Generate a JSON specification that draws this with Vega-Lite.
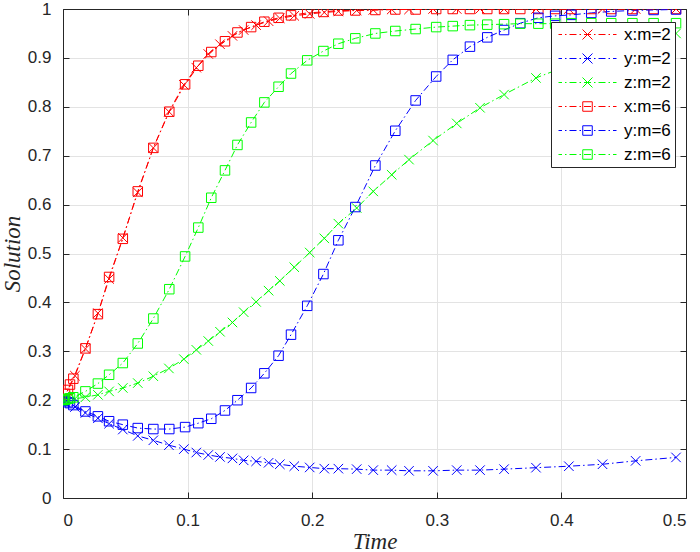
{
  "$schema": "https://vega.github.io/schema/vega-lite/v6.json",
  "width": 623,
  "height": 489,
  "autosize": {"type": "none"},
  "padding": {"left": 63, "top": 9, "right": 14, "bottom": 54},
  "background": "white",
  "config": {
    "view": {"stroke": null},
    "font": "Liberation Sans",
    "axis": {
      "labelFont": "Liberation Sans",
      "labelFontSize": 17,
      "labelColor": "#262626",
      "domainColor": "#262626",
      "domainWidth": 1,
      "tickColor": "#262626",
      "tickWidth": 1,
      "gridColor": "#e3e3e3",
      "gridWidth": 1,
      "titleFont": "Liberation Serif",
      "titleFontStyle": "italic",
      "titleFontWeight": "normal",
      "titleFontSize": 23,
      "titleColor": "#262626"
    }
  },
  "data": {
    "values": [
      {"s": "x:m=2", "t": 0, "v": 0.2},
      {"s": "x:m=2", "t": 0.0016, "v": 0.208},
      {"s": "x:m=2", "t": 0.0096, "v": 0.25},
      {"s": "x:m=2", "t": 0.018, "v": 0.305},
      {"s": "x:m=2", "t": 0.028, "v": 0.378},
      {"s": "x:m=2", "t": 0.037, "v": 0.448},
      {"s": "x:m=2", "t": 0.048, "v": 0.532},
      {"s": "x:m=2", "t": 0.06, "v": 0.625},
      {"s": "x:m=2", "t": 0.0725, "v": 0.716},
      {"s": "x:m=2", "t": 0.085, "v": 0.79},
      {"s": "x:m=2", "t": 0.097, "v": 0.845},
      {"s": "x:m=2", "t": 0.107, "v": 0.88},
      {"s": "x:m=2", "t": 0.1166, "v": 0.908},
      {"s": "x:m=2", "t": 0.126, "v": 0.928},
      {"s": "x:m=2", "t": 0.136, "v": 0.945},
      {"s": "x:m=2", "t": 0.145, "v": 0.957},
      {"s": "x:m=2", "t": 0.155, "v": 0.967},
      {"s": "x:m=2", "t": 0.165, "v": 0.975},
      {"s": "x:m=2", "t": 0.174, "v": 0.981},
      {"s": "x:m=2", "t": 0.1856, "v": 0.986},
      {"s": "x:m=2", "t": 0.198, "v": 0.99},
      {"s": "x:m=2", "t": 0.2097, "v": 0.993},
      {"s": "x:m=2", "t": 0.221, "v": 0.995},
      {"s": "x:m=2", "t": 0.2357, "v": 0.997},
      {"s": "x:m=2", "t": 0.249, "v": 0.998},
      {"s": "x:m=2", "t": 0.2638, "v": 0.999},
      {"s": "x:m=2", "t": 0.2777, "v": 0.999},
      {"s": "x:m=2", "t": 0.297, "v": 1},
      {"s": "x:m=2", "t": 0.316, "v": 1},
      {"s": "x:m=2", "t": 0.3347, "v": 1},
      {"s": "x:m=2", "t": 0.354, "v": 1},
      {"s": "x:m=2", "t": 0.3796, "v": 1},
      {"s": "x:m=2", "t": 0.406, "v": 1},
      {"s": "x:m=2", "t": 0.433, "v": 1},
      {"s": "x:m=2", "t": 0.4596, "v": 1},
      {"s": "x:m=2", "t": 0.492, "v": 1},
      {"s": "y:m=2", "t": 0, "v": 0.2},
      {"s": "y:m=2", "t": 0.0016, "v": 0.196},
      {"s": "y:m=2", "t": 0.0096, "v": 0.186},
      {"s": "y:m=2", "t": 0.018, "v": 0.174},
      {"s": "y:m=2", "t": 0.028, "v": 0.163},
      {"s": "y:m=2", "t": 0.037, "v": 0.152},
      {"s": "y:m=2", "t": 0.048, "v": 0.14},
      {"s": "y:m=2", "t": 0.06, "v": 0.127},
      {"s": "y:m=2", "t": 0.0725, "v": 0.118},
      {"s": "y:m=2", "t": 0.085, "v": 0.108},
      {"s": "y:m=2", "t": 0.097, "v": 0.1},
      {"s": "y:m=2", "t": 0.107, "v": 0.093},
      {"s": "y:m=2", "t": 0.1166, "v": 0.088},
      {"s": "y:m=2", "t": 0.126, "v": 0.084},
      {"s": "y:m=2", "t": 0.136, "v": 0.081},
      {"s": "y:m=2", "t": 0.145, "v": 0.077},
      {"s": "y:m=2", "t": 0.155, "v": 0.075},
      {"s": "y:m=2", "t": 0.165, "v": 0.072},
      {"s": "y:m=2", "t": 0.174, "v": 0.069},
      {"s": "y:m=2", "t": 0.1856, "v": 0.065},
      {"s": "y:m=2", "t": 0.198, "v": 0.0625},
      {"s": "y:m=2", "t": 0.2097, "v": 0.06},
      {"s": "y:m=2", "t": 0.221, "v": 0.06},
      {"s": "y:m=2", "t": 0.2357, "v": 0.059},
      {"s": "y:m=2", "t": 0.249, "v": 0.057},
      {"s": "y:m=2", "t": 0.2638, "v": 0.057},
      {"s": "y:m=2", "t": 0.2777, "v": 0.0556},
      {"s": "y:m=2", "t": 0.297, "v": 0.0556},
      {"s": "y:m=2", "t": 0.316, "v": 0.057},
      {"s": "y:m=2", "t": 0.3347, "v": 0.057},
      {"s": "y:m=2", "t": 0.354, "v": 0.059},
      {"s": "y:m=2", "t": 0.3796, "v": 0.062},
      {"s": "y:m=2", "t": 0.406, "v": 0.065},
      {"s": "y:m=2", "t": 0.433, "v": 0.069},
      {"s": "y:m=2", "t": 0.4596, "v": 0.076},
      {"s": "y:m=2", "t": 0.492, "v": 0.083},
      {"s": "z:m=2", "t": 0, "v": 0.2},
      {"s": "z:m=2", "t": 0.0016, "v": 0.2},
      {"s": "z:m=2", "t": 0.0096, "v": 0.203},
      {"s": "z:m=2", "t": 0.018, "v": 0.206},
      {"s": "z:m=2", "t": 0.028, "v": 0.211},
      {"s": "z:m=2", "t": 0.037, "v": 0.218},
      {"s": "z:m=2", "t": 0.048, "v": 0.225},
      {"s": "z:m=2", "t": 0.06, "v": 0.235},
      {"s": "z:m=2", "t": 0.0725, "v": 0.249},
      {"s": "z:m=2", "t": 0.085, "v": 0.265},
      {"s": "z:m=2", "t": 0.097, "v": 0.284},
      {"s": "z:m=2", "t": 0.107, "v": 0.303},
      {"s": "z:m=2", "t": 0.1166, "v": 0.321},
      {"s": "z:m=2", "t": 0.126, "v": 0.34},
      {"s": "z:m=2", "t": 0.136, "v": 0.359},
      {"s": "z:m=2", "t": 0.145, "v": 0.38},
      {"s": "z:m=2", "t": 0.155, "v": 0.401},
      {"s": "z:m=2", "t": 0.165, "v": 0.424},
      {"s": "z:m=2", "t": 0.174, "v": 0.444},
      {"s": "z:m=2", "t": 0.1856, "v": 0.472},
      {"s": "z:m=2", "t": 0.198, "v": 0.502},
      {"s": "z:m=2", "t": 0.2097, "v": 0.531},
      {"s": "z:m=2", "t": 0.221, "v": 0.561},
      {"s": "z:m=2", "t": 0.2357, "v": 0.593},
      {"s": "z:m=2", "t": 0.249, "v": 0.627},
      {"s": "z:m=2", "t": 0.2638, "v": 0.661},
      {"s": "z:m=2", "t": 0.2777, "v": 0.692},
      {"s": "z:m=2", "t": 0.297, "v": 0.731},
      {"s": "z:m=2", "t": 0.316, "v": 0.766},
      {"s": "z:m=2", "t": 0.3347, "v": 0.798},
      {"s": "z:m=2", "t": 0.354, "v": 0.825},
      {"s": "z:m=2", "t": 0.3796, "v": 0.859},
      {"s": "z:m=2", "t": 0.406, "v": 0.885},
      {"s": "z:m=2", "t": 0.433, "v": 0.907},
      {"s": "z:m=2", "t": 0.4596, "v": 0.927},
      {"s": "z:m=2", "t": 0.492, "v": 0.95},
      {"s": "x:m=6", "t": 0, "v": 0.2},
      {"s": "x:m=6", "t": 0.0016, "v": 0.213},
      {"s": "x:m=6", "t": 0.004, "v": 0.221},
      {"s": "x:m=6", "t": 0.0056, "v": 0.232},
      {"s": "x:m=6", "t": 0.0083, "v": 0.244},
      {"s": "x:m=6", "t": 0.018, "v": 0.306},
      {"s": "x:m=6", "t": 0.028, "v": 0.376},
      {"s": "x:m=6", "t": 0.037, "v": 0.452},
      {"s": "x:m=6", "t": 0.048, "v": 0.53},
      {"s": "x:m=6", "t": 0.06, "v": 0.627},
      {"s": "x:m=6", "t": 0.0725, "v": 0.716},
      {"s": "x:m=6", "t": 0.0853, "v": 0.79},
      {"s": "x:m=6", "t": 0.098, "v": 0.846},
      {"s": "x:m=6", "t": 0.1086, "v": 0.884},
      {"s": "x:m=6", "t": 0.119, "v": 0.912},
      {"s": "x:m=6", "t": 0.13, "v": 0.934},
      {"s": "x:m=6", "t": 0.14, "v": 0.952},
      {"s": "x:m=6", "t": 0.151, "v": 0.963},
      {"s": "x:m=6", "t": 0.1616, "v": 0.974},
      {"s": "x:m=6", "t": 0.173, "v": 0.982},
      {"s": "x:m=6", "t": 0.183, "v": 0.987},
      {"s": "x:m=6", "t": 0.196, "v": 0.992},
      {"s": "x:m=6", "t": 0.209, "v": 0.994},
      {"s": "x:m=6", "t": 0.221, "v": 0.997},
      {"s": "x:m=6", "t": 0.2346, "v": 0.997},
      {"s": "x:m=6", "t": 0.2507, "v": 0.998},
      {"s": "x:m=6", "t": 0.2667, "v": 0.999},
      {"s": "x:m=6", "t": 0.283, "v": 0.999},
      {"s": "x:m=6", "t": 0.2995, "v": 1},
      {"s": "x:m=6", "t": 0.3128, "v": 1},
      {"s": "x:m=6", "t": 0.3266, "v": 1},
      {"s": "x:m=6", "t": 0.3405, "v": 1},
      {"s": "x:m=6", "t": 0.354, "v": 1},
      {"s": "x:m=6", "t": 0.367, "v": 1},
      {"s": "x:m=6", "t": 0.3815, "v": 1},
      {"s": "x:m=6", "t": 0.395, "v": 1},
      {"s": "x:m=6", "t": 0.408, "v": 1},
      {"s": "x:m=6", "t": 0.424, "v": 1},
      {"s": "x:m=6", "t": 0.44, "v": 1},
      {"s": "x:m=6", "t": 0.457, "v": 1},
      {"s": "x:m=6", "t": 0.474, "v": 1},
      {"s": "x:m=6", "t": 0.492, "v": 1},
      {"s": "y:m=6", "t": 0, "v": 0.2},
      {"s": "y:m=6", "t": 0.0016, "v": 0.199},
      {"s": "y:m=6", "t": 0.004, "v": 0.196},
      {"s": "y:m=6", "t": 0.0056, "v": 0.194},
      {"s": "y:m=6", "t": 0.0083, "v": 0.19},
      {"s": "y:m=6", "t": 0.018, "v": 0.177},
      {"s": "y:m=6", "t": 0.028, "v": 0.167},
      {"s": "y:m=6", "t": 0.037, "v": 0.157},
      {"s": "y:m=6", "t": 0.048, "v": 0.15},
      {"s": "y:m=6", "t": 0.06, "v": 0.143},
      {"s": "y:m=6", "t": 0.0725, "v": 0.141},
      {"s": "y:m=6", "t": 0.0853, "v": 0.141},
      {"s": "y:m=6", "t": 0.098, "v": 0.145},
      {"s": "y:m=6", "t": 0.1086, "v": 0.153},
      {"s": "y:m=6", "t": 0.119, "v": 0.162},
      {"s": "y:m=6", "t": 0.13, "v": 0.179},
      {"s": "y:m=6", "t": 0.14, "v": 0.2},
      {"s": "y:m=6", "t": 0.151, "v": 0.225},
      {"s": "y:m=6", "t": 0.1616, "v": 0.255},
      {"s": "y:m=6", "t": 0.173, "v": 0.291},
      {"s": "y:m=6", "t": 0.183, "v": 0.334},
      {"s": "y:m=6", "t": 0.196, "v": 0.393},
      {"s": "y:m=6", "t": 0.209, "v": 0.458},
      {"s": "y:m=6", "t": 0.221, "v": 0.527},
      {"s": "y:m=6", "t": 0.2346, "v": 0.595},
      {"s": "y:m=6", "t": 0.2507, "v": 0.68},
      {"s": "y:m=6", "t": 0.2667, "v": 0.751},
      {"s": "y:m=6", "t": 0.283, "v": 0.813},
      {"s": "y:m=6", "t": 0.2995, "v": 0.862},
      {"s": "y:m=6", "t": 0.3128, "v": 0.896},
      {"s": "y:m=6", "t": 0.3266, "v": 0.923},
      {"s": "y:m=6", "t": 0.3405, "v": 0.942},
      {"s": "y:m=6", "t": 0.354, "v": 0.957},
      {"s": "y:m=6", "t": 0.367, "v": 0.971},
      {"s": "y:m=6", "t": 0.3815, "v": 0.982},
      {"s": "y:m=6", "t": 0.395, "v": 0.986},
      {"s": "y:m=6", "t": 0.408, "v": 0.988},
      {"s": "y:m=6", "t": 0.424, "v": 0.992},
      {"s": "y:m=6", "t": 0.44, "v": 0.995},
      {"s": "y:m=6", "t": 0.457, "v": 0.997},
      {"s": "y:m=6", "t": 0.474, "v": 0.998},
      {"s": "y:m=6", "t": 0.492, "v": 0.999},
      {"s": "z:m=6", "t": 0, "v": 0.2},
      {"s": "z:m=6", "t": 0.0016, "v": 0.201},
      {"s": "z:m=6", "t": 0.004, "v": 0.203},
      {"s": "z:m=6", "t": 0.0056, "v": 0.204},
      {"s": "z:m=6", "t": 0.0083, "v": 0.206},
      {"s": "z:m=6", "t": 0.018, "v": 0.218},
      {"s": "z:m=6", "t": 0.028, "v": 0.234},
      {"s": "z:m=6", "t": 0.037, "v": 0.252},
      {"s": "z:m=6", "t": 0.048, "v": 0.276},
      {"s": "z:m=6", "t": 0.06, "v": 0.316},
      {"s": "z:m=6", "t": 0.0725, "v": 0.367},
      {"s": "z:m=6", "t": 0.0853, "v": 0.427},
      {"s": "z:m=6", "t": 0.098, "v": 0.494},
      {"s": "z:m=6", "t": 0.1086, "v": 0.553},
      {"s": "z:m=6", "t": 0.119, "v": 0.614},
      {"s": "z:m=6", "t": 0.13, "v": 0.67},
      {"s": "z:m=6", "t": 0.14, "v": 0.722},
      {"s": "z:m=6", "t": 0.151, "v": 0.768},
      {"s": "z:m=6", "t": 0.1616, "v": 0.809},
      {"s": "z:m=6", "t": 0.173, "v": 0.841},
      {"s": "z:m=6", "t": 0.183, "v": 0.868},
      {"s": "z:m=6", "t": 0.196, "v": 0.895},
      {"s": "z:m=6", "t": 0.209, "v": 0.914},
      {"s": "z:m=6", "t": 0.221, "v": 0.929},
      {"s": "z:m=6", "t": 0.2346, "v": 0.94},
      {"s": "z:m=6", "t": 0.2507, "v": 0.95},
      {"s": "z:m=6", "t": 0.2667, "v": 0.955},
      {"s": "z:m=6", "t": 0.283, "v": 0.959},
      {"s": "z:m=6", "t": 0.2995, "v": 0.963},
      {"s": "z:m=6", "t": 0.3128, "v": 0.965},
      {"s": "z:m=6", "t": 0.3266, "v": 0.967},
      {"s": "z:m=6", "t": 0.3405, "v": 0.968},
      {"s": "z:m=6", "t": 0.354, "v": 0.969},
      {"s": "z:m=6", "t": 0.367, "v": 0.97},
      {"s": "z:m=6", "t": 0.3815, "v": 0.97},
      {"s": "z:m=6", "t": 0.395, "v": 0.97},
      {"s": "z:m=6", "t": 0.408, "v": 0.971},
      {"s": "z:m=6", "t": 0.424, "v": 0.971},
      {"s": "z:m=6", "t": 0.44, "v": 0.971},
      {"s": "z:m=6", "t": 0.457, "v": 0.971},
      {"s": "z:m=6", "t": 0.474, "v": 0.971},
      {"s": "z:m=6", "t": 0.492, "v": 0.971}
    ]
  },
  "layer": [
    {
      "mark": {"type": "line", "strokeWidth": 1, "strokeDash": [7, 3, 1.5, 3], "clip": true},
      "encoding": {
        "x": {
          "field": "t", "type": "quantitative",
          "scale": {"domain": [0, 0.5], "nice": false, "zero": false},
          "axis": {"values": [0, 0.1, 0.2, 0.3, 0.4, 0.5], "format": "~g", "grid": true, "tickSize": -6, "labelPadding": 20, "title": "Time", "titlePadding": 2}
        },
        "y": {
          "field": "v", "type": "quantitative",
          "scale": {"domain": [0, 1], "nice": false, "zero": false},
          "axis": {"values": [0, 0.1, 0.2, 0.3, 0.4, 0.5, 0.6, 0.7, 0.8, 0.9, 1], "format": "~g", "grid": true, "tickSize": -6, "labelPadding": 18, "title": "Solution", "titlePadding": 3}
        },
        "color": {
          "field": "s", "type": "nominal",
          "scale": {
            "domain": ["x:m=2", "y:m=2", "z:m=2", "x:m=6", "y:m=6", "z:m=6"],
            "range": ["#ff0000", "#0000ff", "#00ff00", "#ff0000", "#0000ff", "#00ff00"]
          }
        }
      }
    },
    {
      "transform": [{"filter": {"field": "s", "oneOf": ["x:m=2", "y:m=2", "z:m=2"]}}],
      "mark": {"type": "point", "filled": false, "strokeWidth": 1, "size": 90, "opacity": 1, "clip": true, "shape": "M-1,-1L1,1M-1,1L1,-1"},
      "encoding": {
        "x": {"field": "t", "type": "quantitative", "axis": null},
        "y": {"field": "v", "type": "quantitative", "axis": null},
        "color": {"field": "s", "type": "nominal"}
      }
    },
    {
      "transform": [{"filter": {"field": "s", "oneOf": ["x:m=6", "y:m=6", "z:m=6"]}}],
      "mark": {"type": "point", "filled": false, "strokeWidth": 1, "size": 90, "opacity": 1, "clip": true, "shape": "square"},
      "encoding": {
        "x": {
          "field": "t", "type": "quantitative",
          "axis": {"orient": "top", "values": [0, 0.1, 0.2, 0.3, 0.4, 0.5], "labels": false, "grid": false, "tickSize": -6, "title": null}
        },
        "y": {
          "field": "v", "type": "quantitative",
          "axis": {"orient": "right", "values": [0, 0.1, 0.2, 0.3, 0.4, 0.5, 0.6, 0.7, 0.8, 0.9, 1], "labels": false, "grid": false, "tickSize": -6, "title": null}
        },
        "color": {"field": "s", "type": "nominal"}
      }
    },
    {
      "transform": [{"filter": "false"}],
      "mark": {"type": "point", "filled": false, "strokeWidth": 1, "opacity": 1},
      "encoding": {
        "color": {
          "field": "s", "type": "nominal",
          "legend": {
            "orient": "none", "legendX": 488, "legendY": 13, "title": null,
            "strokeColor": "#262626", "fillColor": "white", "padding": 4,
            "labelFont": "Liberation Sans", "labelFontSize": 17, "labelColor": "#000000",
            "symbolSize": 100, "symbolStrokeWidth": 1, "symbolFillColor": "transparent", "symbolDash": [],
            "labelOffset": 52, "rowPadding": 6
          }
        },
        "shape": {
          "field": "s", "type": "nominal",
          "scale": {
            "domain": ["x:m=2", "y:m=2", "z:m=2", "x:m=6", "y:m=6", "z:m=6"],
            "range": [
              "M-1,0L-0.3,0M0.3,0L0.6,0M1.2,0L2.6,0M3.2,0L3.5,0M4.1,0L5.5,0M6.1,0L6.4,0M7,0L8.4,0M9,0L9.3,0M9.9,0L10.6,0M3.8,-1L5.8,1M3.8,1L5.8,-1",
              "M-1,0L-0.3,0M0.3,0L0.6,0M1.2,0L2.6,0M3.2,0L3.5,0M4.1,0L5.5,0M6.1,0L6.4,0M7,0L8.4,0M9,0L9.3,0M9.9,0L10.6,0M3.8,-1L5.8,1M3.8,1L5.8,-1",
              "M-1,0L-0.3,0M0.3,0L0.6,0M1.2,0L2.6,0M3.2,0L3.5,0M4.1,0L5.5,0M6.1,0L6.4,0M7,0L8.4,0M9,0L9.3,0M9.9,0L10.6,0M3.8,-1L5.8,1M3.8,1L5.8,-1",
              "M-1,0L-0.3,0M0.3,0L0.6,0M1.2,0L2.6,0M3.2,0L3.5,0M4.1,0L5.5,0M6.1,0L6.4,0M7,0L8.4,0M9,0L9.3,0M9.9,0L10.6,0M3.85,-0.95L5.75,-0.95L5.75,0.95L3.85,0.95Z",
              "M-1,0L-0.3,0M0.3,0L0.6,0M1.2,0L2.6,0M3.2,0L3.5,0M4.1,0L5.5,0M6.1,0L6.4,0M7,0L8.4,0M9,0L9.3,0M9.9,0L10.6,0M3.85,-0.95L5.75,-0.95L5.75,0.95L3.85,0.95Z",
              "M-1,0L-0.3,0M0.3,0L0.6,0M1.2,0L2.6,0M3.2,0L3.5,0M4.1,0L5.5,0M6.1,0L6.4,0M7,0L8.4,0M9,0L9.3,0M9.9,0L10.6,0M3.85,-0.95L5.75,-0.95L5.75,0.95L3.85,0.95Z"
            ]
          },
          "legend": {
            "orient": "none", "legendX": 488, "legendY": 13, "title": null,
            "strokeColor": "#262626", "fillColor": "white", "padding": 4,
            "labelFont": "Liberation Sans", "labelFontSize": 17, "labelColor": "#000000",
            "symbolSize": 100, "symbolStrokeWidth": 1, "symbolFillColor": "transparent", "symbolDash": [],
            "labelOffset": 52, "rowPadding": 6
          }
        }
      }
    }
  ],
  "resolve": {"axis": {"x": "independent", "y": "independent"}}
}
